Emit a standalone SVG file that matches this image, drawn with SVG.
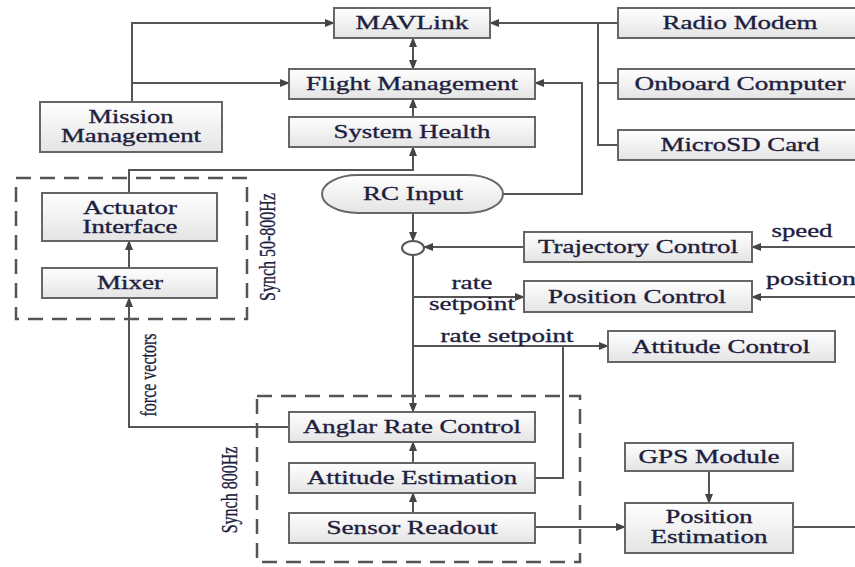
<svg xmlns="http://www.w3.org/2000/svg" width="855" height="567" viewBox="0 0 855 567">
<defs>
<linearGradient id="g" x1="0" y1="0" x2="0" y2="1">
<stop offset="0" stop-color="#ffffff"/>
<stop offset="1" stop-color="#e4e4e4"/>
</linearGradient>
<marker id="ah" markerWidth="10" markerHeight="8" refX="9" refY="4" orient="auto" markerUnits="userSpaceOnUse">
<path d="M0,0 L10,4 L0,8 Z" fill="#444"/>
</marker>
</defs>
<style>
.box{fill:url(#g);stroke:#666;stroke-width:2}
.t{font-family:"Liberation Serif","Times New Roman",serif;font-size:19px;fill:#1e1e3e;stroke:#1e1e3e;stroke-width:0.35;text-anchor:middle}
.l{font-family:"Liberation Serif","Times New Roman",serif;font-size:19px;fill:#1e1e3e;stroke:#1e1e3e;stroke-width:0.35}
.s{font-family:"Liberation Serif","Times New Roman",serif;font-size:18px;fill:#1e1e3e;stroke:#1e1e3e;stroke-width:0.3;text-anchor:middle}
.c{fill:none;stroke:#555;stroke-width:2}
.a{marker-end:url(#ah)}
.d{fill:none;stroke:#555;stroke-width:2.5;stroke-dasharray:15 9}
.r{font-family:"Liberation Serif","Times New Roman",serif;font-size:16px;fill:#1e1e3e;stroke:#1e1e3e;stroke-width:0.25;text-anchor:middle}
</style>

<g id="dashed">
<rect class="d" x="16" y="178" width="231" height="141"/>
<rect class="d" x="257" y="396" width="323" height="166"/>
<text class="r" transform="translate(275,247) rotate(-90) scale(1,1.4)">Synch 50-800Hz</text>
<text class="r" transform="translate(237,490) rotate(-90) scale(1,1.4)">Synch 800Hz</text>
</g>

<g id="connectors">
<polyline class="c a" points="132,102 132,23 334,23"/>
<line class="c a" x1="132" y1="83" x2="289" y2="83"/>
<line class="c a" x1="413" y1="54" x2="413" y2="69"/>
<line class="c a" x1="413" y1="54" x2="413" y2="38"/>
<line class="c a" x1="413" y1="117" x2="413" y2="99"/>
<polyline class="c a" points="129,193 129,170 413,170 413,147"/>
<line class="c a" x1="618" y1="23" x2="490" y2="23"/>
<polyline class="c" points="618,83 598,83"/>
<polyline class="c" points="598,23 598,145 618,145"/>
<polyline class="c a" points="503,194 582,194 582,83 535,83"/>
<line class="c a" x1="413" y1="213" x2="413" y2="241"/>
<line class="c a" x1="524" y1="247" x2="424" y2="247"/>
<line class="c a" x1="855" y1="247" x2="752" y2="247"/>
<line class="c a" x1="855" y1="297" x2="752" y2="297"/>
<line class="c a" x1="413" y1="255" x2="413" y2="412"/>
<line class="c a" x1="413" y1="297" x2="524" y2="297"/>
<line class="c a" x1="413" y1="346" x2="608" y2="346"/>
<polyline class="c" points="535,478 563,478 563,346"/>
<polyline class="c a" points="289,427 129,427 129,298"/>
<line class="c a" x1="129" y1="268" x2="129" y2="241"/>
<line class="c a" x1="413" y1="463" x2="413" y2="442"/>
<line class="c a" x1="413" y1="513" x2="413" y2="493"/>
<line class="c a" x1="535" y1="527" x2="625" y2="527"/>
<line class="c a" x1="709" y1="471" x2="709" y2="503"/>
<line class="c" x1="793" y1="527" x2="855" y2="527"/>
<ellipse cx="413" cy="248" rx="11" ry="7" fill="#fff" stroke="#555" stroke-width="2"/>
<text class="s" x="472" y="289" textLength="41" lengthAdjust="spacingAndGlyphs">rate</text>
<text class="s" x="472" y="310" textLength="86" lengthAdjust="spacingAndGlyphs">setpoint</text>
<text class="t" x="507" y="342" textLength="133" lengthAdjust="spacingAndGlyphs">rate setpoint</text>
<text class="t" x="802" y="237" textLength="61" lengthAdjust="spacingAndGlyphs">speed</text>
<text class="l" x="766" y="285" textLength="90" lengthAdjust="spacingAndGlyphs">position</text>
<text class="r" transform="translate(156,375) rotate(-90) scale(1,1.4)">force vectors</text>
</g>

<g id="mavlink"><rect class="box" x="334" y="8" width="156" height="30"/><text class="t" x="412" y="29" textLength="113" lengthAdjust="spacingAndGlyphs">MAVLink</text></g>
<g id="flight-management"><rect class="box" x="289" y="69" width="246" height="30"/><text class="t" x="412" y="90" textLength="212" lengthAdjust="spacingAndGlyphs">Flight Management</text></g>
<g id="system-health"><rect class="box" x="289" y="117" width="246" height="30"/><text class="t" x="412" y="138" textLength="157" lengthAdjust="spacingAndGlyphs">System Health</text></g>
<g id="mission-management"><rect class="box" x="40" y="102" width="182" height="50"/><text class="t" x="131" y="123" textLength="85" lengthAdjust="spacingAndGlyphs">Mission</text><text class="t" x="131" y="142" textLength="140" lengthAdjust="spacingAndGlyphs">Management</text></g>
<g id="radio-modem"><rect class="box" x="618" y="8" width="250" height="30"/><text class="t" x="740" y="29" textLength="155" lengthAdjust="spacingAndGlyphs">Radio Modem</text></g>
<g id="onboard-computer"><rect class="box" x="618" y="69" width="250" height="30"/><text class="t" x="740" y="90" textLength="211" lengthAdjust="spacingAndGlyphs">Onboard Computer</text></g>
<g id="microsd-card"><rect class="box" x="618" y="130" width="250" height="30"/><text class="t" x="740" y="151" textLength="159" lengthAdjust="spacingAndGlyphs">MicroSD Card</text></g>
<g id="rc-input"><rect class="box" x="322" y="175" width="181" height="38" rx="36" ry="19"/><text class="t" x="413" y="200" textLength="100" lengthAdjust="spacingAndGlyphs">RC Input</text></g>
<g id="actuator-interface"><rect class="box" x="42" y="193" width="175" height="48"/><text class="t" x="130" y="214" textLength="94" lengthAdjust="spacingAndGlyphs">Actuator</text><text class="t" x="130" y="233" textLength="95" lengthAdjust="spacingAndGlyphs">Interface</text></g>
<g id="mixer"><rect class="box" x="42" y="268" width="175" height="30"/><text class="t" x="130" y="289" textLength="66" lengthAdjust="spacingAndGlyphs">Mixer</text></g>
<g id="trajectory-control"><rect class="box" x="524" y="232" width="228" height="30"/><text class="t" x="638" y="253" textLength="200" lengthAdjust="spacingAndGlyphs">Trajectory Control</text></g>
<g id="position-control"><rect class="box" x="524" y="281" width="228" height="31"/><text class="t" x="637" y="303" textLength="178" lengthAdjust="spacingAndGlyphs">Position Control</text></g>
<g id="attitude-control"><rect class="box" x="608" y="331" width="227" height="31"/><text class="t" x="721" y="353" textLength="178" lengthAdjust="spacingAndGlyphs">Attitude Control</text></g>
<g id="anglar-rate-control"><rect class="box" x="289" y="412" width="246" height="30"/><text class="t" x="412" y="433" textLength="218" lengthAdjust="spacingAndGlyphs">Anglar Rate Control</text></g>
<g id="attitude-estimation"><rect class="box" x="289" y="463" width="246" height="30"/><text class="t" x="412" y="484" textLength="210" lengthAdjust="spacingAndGlyphs">Attitude Estimation</text></g>
<g id="sensor-readout"><rect class="box" x="289" y="513" width="246" height="30"/><text class="t" x="412" y="534" textLength="171" lengthAdjust="spacingAndGlyphs">Sensor Readout</text></g>
<g id="gps-module"><rect class="box" x="625" y="443" width="168" height="28"/><text class="t" x="709" y="463" textLength="141" lengthAdjust="spacingAndGlyphs">GPS Module</text></g>
<g id="position-estimation"><rect class="box" x="625" y="503" width="168" height="50"/><text class="t" x="709" y="523" textLength="87" lengthAdjust="spacingAndGlyphs">Position</text><text class="t" x="709" y="543" textLength="117" lengthAdjust="spacingAndGlyphs">Estimation</text></g>
</svg>
